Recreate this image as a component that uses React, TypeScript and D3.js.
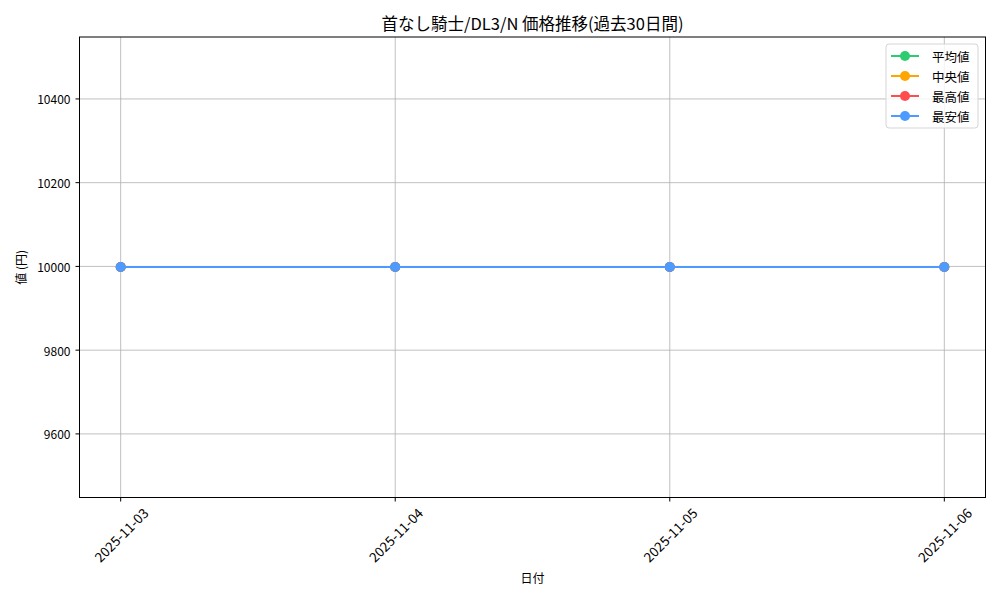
import { useEffect, useRef } from 'react';
import * as d3 from 'd3';

const WIDTH = 1000;
const HEIGHT = 600;

const dates = ['2025-11-03', '2025-11-04', '2025-11-05', '2025-11-06'];
const avgValues = [9998, 9998, 9998, 9998];
const medianValues = [9998, 9998, 9998, 9998];
const maxValues = [9998, 9998, 9998, 9998];
const minValues = [9998, 9998, 9998, 9998];
const seriesNames = ['平均値', '中央値', '最高値', '最安値'];
const seriesColors = ['#2ecc71', '#ffa500', '#ff4d4d', '#4d9bff'];
const yTicks = [9600, 9800, 10000, 10200, 10400];

const FONT = '"Noto Sans CJK JP", "DejaVu Sans", sans-serif';

export default function App() {
  const svgRef = useRef<SVGSVGElement | null>(null);

  useEffect(() => {
    if (!svgRef.current) return;
    const svg = d3.select(svgRef.current);
    svg.selectAll('*').remove();

    const margin = { top: 37, right: 14.5, bottom: 102.5, left: 79.5 };
    const left = margin.left;
    const right = WIDTH - margin.right;
    const top = margin.top;
    const bottom = HEIGHT - margin.bottom;

    const parse = d3.timeParse('%Y-%m-%d');
    const dayValues = dates.map((d) => parse(d) as Date);
    const t0 = dayValues[0].getTime();
    const t1 = dayValues[dayValues.length - 1].getTime();
    const pad = (t1 - t0) * 0.05;
    const x = d3.scaleTime().domain([new Date(t0 - pad), new Date(t1 + pad)]).range([left, right]);

    const allValues = [...avgValues, ...medianValues, ...maxValues, ...minValues];
    const v = d3.mean(allValues) ?? 0;
    const y = d3.scaleLinear().domain([v * 0.945, v * 1.055]).range([bottom, top]);

    svg.append('rect').attr('width', WIDTH).attr('height', HEIGHT).attr('fill', '#fff');

    // grid
    const grid = svg.append('g').attr('stroke', '#b0b0b0').attr('stroke-width', 0.8);
    dayValues.forEach((d) => {
      grid.append('line').attr('x1', x(d)).attr('x2', x(d)).attr('y1', top).attr('y2', bottom);
    });
    yTicks.forEach((t) => {
      grid.append('line').attr('x1', left).attr('x2', right).attr('y1', y(t)).attr('y2', y(t));
    });

    // series
    const series = [avgValues, medianValues, maxValues, minValues];
    const line = d3
      .line<number>()
      .x((_, i) => x(dayValues[i]))
      .y((val) => Math.round(y(val)));
    series.forEach((vals, si) => {
      const g = svg.append('g');
      g.append('path')
        .attr('d', line(vals))
        .attr('fill', 'none')
        .attr('stroke', seriesColors[si])
        .attr('stroke-width', 2);
      g.selectAll('circle')
        .data(vals)
        .enter()
        .append('circle')
        .attr('cx', (_, i) => x(dayValues[i]))
        .attr('cy', (val) => Math.round(y(val)))
        .attr('r', 5)
        .attr('fill', seriesColors[si]);
    });

    // frame
    svg
      .append('rect')
      .attr('x', left)
      .attr('y', top)
      .attr('width', right - left)
      .attr('height', bottom - top)
      .attr('fill', 'none')
      .attr('stroke', '#000')
      .attr('stroke-width', 1);

    // x ticks
    const xt = svg.append('g');
    dayValues.forEach((d, i) => {
      xt.append('line').attr('x1', x(d)).attr('x2', x(d)).attr('y1', bottom).attr('y2', bottom + 4).attr('stroke', '#000');
      xt.append('text')
        .attr('transform', `translate(${x(d)},${bottom + 37}) rotate(-45)`)
        .attr('text-anchor', 'middle')
        .attr('dominant-baseline', 'central')
        .attr('font-family', FONT)
        .attr('font-size', 13.5)
        .attr('fill', '#000')
        .text(dates[i]);
    });

    // y ticks
    const yt = svg.append('g');
    yTicks.forEach((t) => {
      yt.append('line').attr('x1', left - 4).attr('x2', left).attr('y1', y(t)).attr('y2', y(t)).attr('stroke', '#000');
      yt.append('text')
        .attr('x', left - 9)
        .attr('y', y(t))
        .attr('text-anchor', 'end')
        .attr('dominant-baseline', 'central')
        .attr('font-family', FONT)
        .attr('font-size', 12)
        .attr('fill', '#000')
        .text(String(t));
    });

    // labels
    svg
      .append('text')
      .attr('x', (left + right) / 2)
      .attr('y', 30)
      .attr('text-anchor', 'middle')
      .attr('font-family', FONT)
      .attr('font-size', 16.5)
      .text('首なし騎士/DL3/N 価格推移(過去30日間)');
    svg
      .append('text')
      .attr('x', (left + right) / 2)
      .attr('y', 583)
      .attr('text-anchor', 'middle')
      .attr('font-family', FONT)
      .attr('font-size', 12)
      .text('日付');
    svg
      .append('text')
      .attr('transform', `translate(26,${(top + bottom) / 2}) rotate(-90)`)
      .attr('text-anchor', 'middle')
      .attr('font-family', FONT)
      .attr('font-size', 12)
      .text('値 (円)');

    // legend
    const lx = 886;
    const ly = 44;
    const legend = svg.append('g');
    legend
      .append('rect')
      .attr('x', lx)
      .attr('y', ly)
      .attr('width', 92)
      .attr('height', 84)
      .attr('rx', 3)
      .attr('fill', '#fff')
      .attr('fill-opacity', 0.8)
      .attr('stroke', '#d5d5d5');
    seriesNames.forEach((name, i) => {
      const cy = ly + 12 + i * 20;
      legend.append('line').attr('x1', lx + 5).attr('x2', lx + 33).attr('y1', cy).attr('y2', cy).attr('stroke', seriesColors[i]).attr('stroke-width', 2);
      legend.append('circle').attr('cx', lx + 19).attr('cy', cy).attr('r', 5).attr('fill', seriesColors[i]);
      legend
        .append('text')
        .attr('x', lx + 46)
        .attr('y', cy)
        .attr('dominant-baseline', 'central')
        .attr('font-family', FONT)
        .attr('font-size', 12.5)
        .text(name);
    });
  }, []);

  return <svg ref={svgRef} width={WIDTH} height={HEIGHT} viewBox={`0 0 ${WIDTH} ${HEIGHT}`} style={{ display: 'block', margin: -8 }} />;
}
